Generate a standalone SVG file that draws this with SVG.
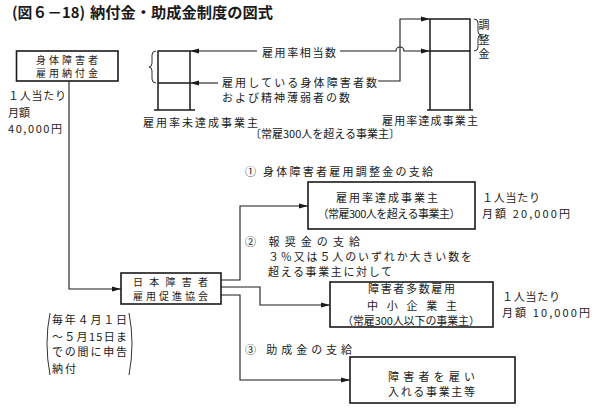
<svg xmlns="http://www.w3.org/2000/svg" width="595" height="414" viewBox="0 0 595 414">
<style>
text{font-family:"Noto Sans CJK JP","Noto Sans",sans-serif;font-size:11px;fill:#1a1a1a}
.t{font-size:15px;font-weight:bold}
.s{font-size:10px}
.m{text-anchor:middle}
.box{fill:none;stroke:#1a1a1a;stroke-width:1.6}
.ln{fill:none;stroke:#1a1a1a;stroke-width:1.1}
.bar{fill:none;stroke:#1a1a1a;stroke-width:1.5}
.br{fill:none;stroke:#1a1a1a;stroke-width:0.9}
</style>
<defs>
<marker id="ah" markerUnits="userSpaceOnUse" markerWidth="9" markerHeight="6" refX="9" refY="3" orient="auto">
<path d="M0,0.5 L9,3 L0,5.5 z" fill="#1a1a1a"/>
</marker>
</defs>
<rect width="595" height="414" fill="#ffffff"/>
<g id="title">
<text class="t" x="12" y="18" textLength="73" lengthAdjust="spacingAndGlyphs">(図６－18)</text>
<text class="t" x="90" y="18" textLength="183" lengthAdjust="spacingAndGlyphs">納付金・助成金制度の図式</text>
</g>
<g id="node-nofukin">
<rect class="box" x="16.5" y="51" width="101.5" height="30"/>
<text class="m s" x="67" y="63.5" textLength="62">身体障害者</text>
<text class="m s" x="67" y="77" textLength="62">雇用納付金</text>
<text x="8" y="99.5" textLength="58">１人当たり</text>
<text x="8" y="116.5">月額</text>
<text x="8" y="132.5" textLength="54">40,000円</text>
</g>
<g id="node-mitassei">
<path class="bar" d="M158,110 V51 H190 V110 M158,83 H190"/>
<path class="bar" d="M154,110 H195" stroke-width="2"/>
<path class="br" d="M156,51 Q152,51 152,55 V63 Q152,67 149,67 Q152,67 152,71 V79 Q152,83 156,83"/>
<text x="143" y="126.5" textLength="115">雇用率未達成事業主</text>
</g>
<g id="node-tassei-bar">
<path class="bar" d="M430,110 V19 H470 V110 M430,51 H470"/>
<path class="bar" d="M427,110 H473" stroke-width="2"/>
<path class="br" d="M474,19 Q478,19 478,23 V31 Q478,35 481,35 Q478,35 478,39 V47 Q478,51 474,51"/>
<text class="m" x="484" y="29">調</text>
<text class="m" x="484" y="43.5">整</text>
<text class="m" x="484" y="58">金</text>
<text x="382" y="124.5" textLength="96">雇用率達成事業主</text>
</g>
<g id="labels-top">
<text x="262" y="56.5" textLength="74">雇用率相当数</text>
<text x="222" y="87" textLength="155">雇用している身体障害者数</text>
<text x="222" y="102" textLength="128">および精神薄弱者の数</text>
<text x="250" y="138" textLength="150">〔常雇300人を超える事業主〕</text>
</g>
<g id="node-kyokai">
<rect class="box" x="121" y="273" width="100" height="31"/>
<text class="m s" x="170.5" y="286" textLength="75">日本障害者</text>
<text class="m s" x="170.5" y="299.5" textLength="75">雇用促進協会</text>
</g>
<g id="note">
<path class="br" d="M50,313 Q44,343 50,375"/>
<path class="br" d="M129,313 Q135,343 129,375"/>
<text x="52" y="324" textLength="75">毎年４月１日</text>
<text x="52" y="341" textLength="75">～５月15日ま</text>
<text x="52" y="356" textLength="75">での間に申告</text>
<text x="52" y="373" textLength="24">納付</text>
</g>
<g id="labels-mid">
<text x="245" y="176" textLength="188">① 身体障害者雇用調整金の支給</text>
<text x="245" y="246" textLength="115">② 報奨金の支給</text>
<text x="268" y="260.5" textLength="204">３％又は５人のいずれか大きい数を</text>
<text x="268" y="276" textLength="124">超える事業主に対して</text>
<text x="245" y="354" textLength="107">③ 助成金の支給</text>
</g>
<g id="node-tassei">
<rect class="box" x="308" y="182" width="167" height="47"/>
<text class="m" x="387" y="202" textLength="102">雇用率達成事業主</text>
<text class="m" x="389" y="218" textLength="143">（常雇300人を超える事業主）</text>
<text x="482" y="202" textLength="58">１人当たり</text>
<text x="482" y="217.5" textLength="88">月額 20,000円</text>
</g>
<g id="node-tasu">
<rect class="box" x="330" y="282" width="163" height="45"/>
<text class="m" x="411.5" y="292.5" textLength="87">障害者多数雇用</text>
<text class="m" x="412" y="309.5" textLength="90">中小企業主</text>
<text class="m" x="411" y="324.5" textLength="138">（常雇300人以下の事業主）</text>
<text x="502" y="300.5" textLength="58">１人当たり</text>
<text x="502" y="317" textLength="88">月額 10,000円</text>
</g>
<g id="node-jigyonushi">
<rect class="box" x="350" y="357" width="165" height="46"/>
<text class="m" x="431.5" y="381" textLength="87">障害者を雇い</text>
<text class="m" x="431.5" y="396" textLength="87">入れる事業主等</text>
</g>
<g id="connectors">
<path class="ln" d="M69,81 V289 H121" marker-end="url(#ah)"/>
<path class="ln" d="M221,280 H240 V206 H308" marker-end="url(#ah)"/>
<path class="ln" d="M221,287 H260 V305 H330" marker-end="url(#ah)"/>
<path class="ln" d="M221,295 H240 V380 H350" marker-end="url(#ah)"/>
<path class="ln" d="M257,51 H190" marker-end="url(#ah)"/>
<path class="ln" d="M218,83 H190" marker-end="url(#ah)"/>
<path class="ln" d="M340,51 H396 A4,4 0 0 1 404,51 H430" marker-end="url(#ah)"/>
<path class="ln" d="M378,81 H400 V19 H430" marker-end="url(#ah)"/>
</g>
</svg>
